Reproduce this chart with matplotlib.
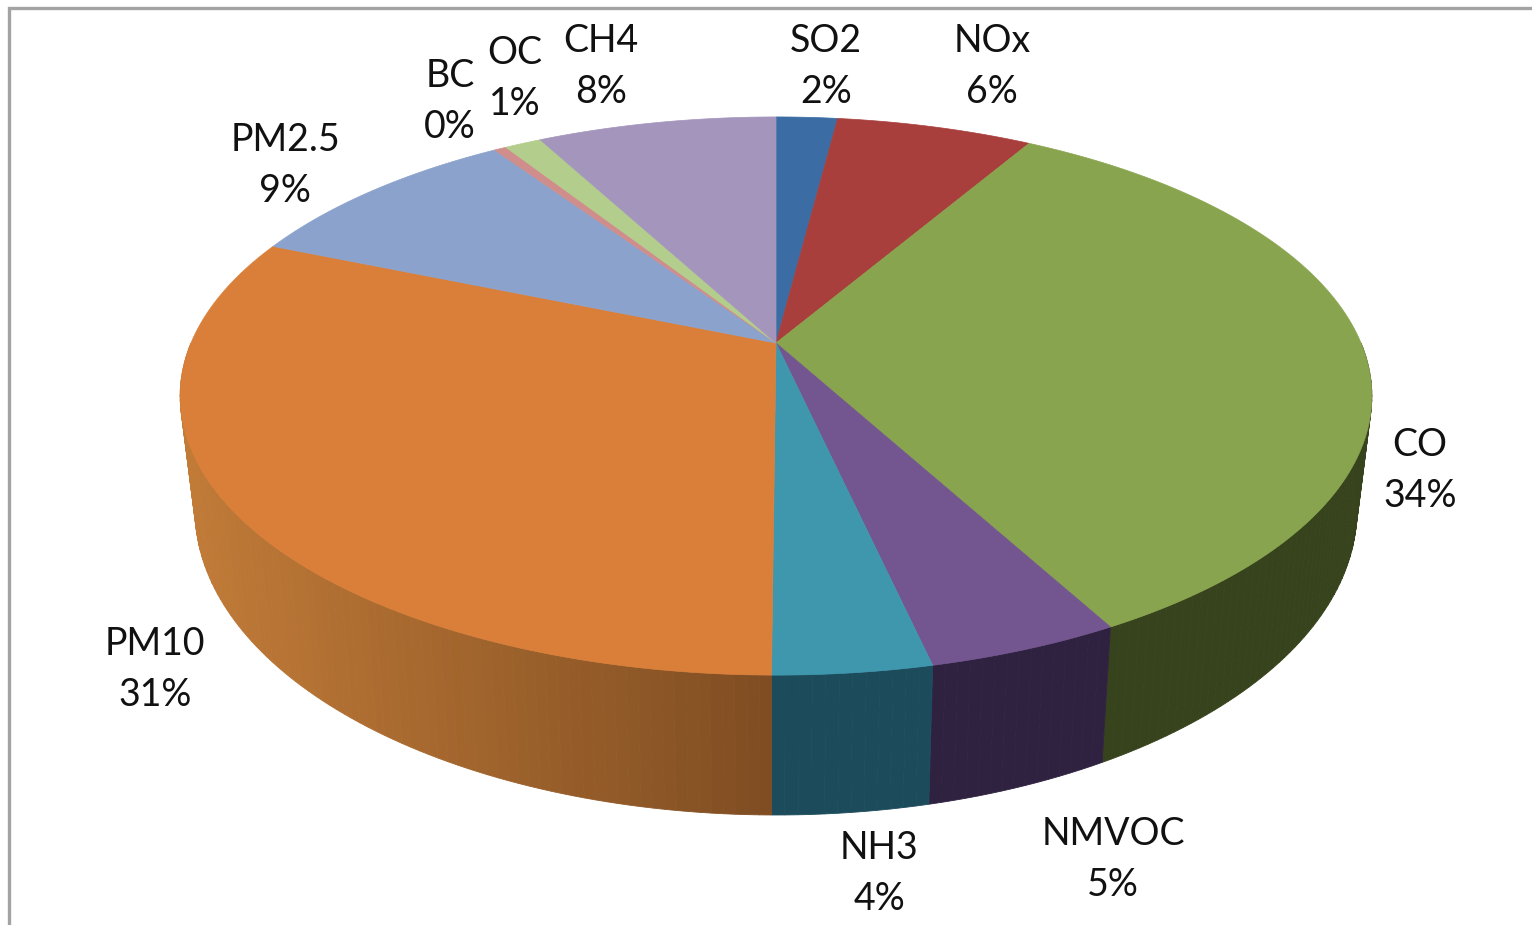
import numpy as np
import matplotlib.pyplot as plt
from matplotlib.colors import to_rgb

plt.rcParams['font.family'] = ['Lato', 'DejaVu Sans']

# slices run clockwise from 12 o'clock
names = ['SO2', 'NOx', 'CO', 'NMVOC', 'NH3', 'PM10', 'PM2.5', 'BC', 'OC', 'CH4']
values = [2.0, 6.4, 33.7, 4.4, 3.6, 31.2, 9.3, 0.4, 1.2, 7.8]
percent_labels = ['2%', '6%', '34%', '5%', '4%', '31%', '9%', '0%', '1%', '8%']
top_colors = ['#3b6ca3', '#a83f3c', '#89a44e', '#73558f', '#3f97ae',
              '#d97f39', '#8ba2cc', '#cf8e8c', '#b3cd8c', '#a495bd']
wall_left = ['#2a4d75', '#7a2d2b', '#37431c', '#2f2240', '#1c4c5c',
             '#c07a37', '#5f7396', '#94605f', '#7f9462', '#756987']
wall_right = ['#2a4d75', '#7a2d2b', '#37431c', '#2f2240', '#1c4c5c',
              '#7f4d22', '#5f7396', '#94605f', '#7f9462', '#756987']

# where the labels sit, in image pixels
label_x = [826, 992, 1420, 1113, 879, 155, 285, 450, 515, 601]
label_y = [41, 41, 445, 834, 848, 644, 140, 76, 53, 41]
line_gap = 51

# perspective of the disc
cx, cy = 776, 343
scale_x, scale_y, tilt = 585, 269, 0.19
# bottom edge of the wall
base_y, base_scale_x, base_scale_y = 452, 0.975, 1.093


def top_edge(a):
    u, v = np.sin(a), np.cos(a)
    w = 1 + tilt * v
    return cx + scale_x * u / w, cy - scale_y * v / w


def base_edge(a):
    u, v = np.sin(a), np.cos(a)
    w = 1 + tilt * v
    return cx + base_scale_x * scale_x * u / w, base_y - base_scale_y * scale_y * v / w


fig = plt.figure(figsize=(15.32, 9.25), dpi=100)
ax = fig.add_axes([0, 0, 1, 1])
ax.set_xlim(0, 1532)
ax.set_ylim(925, 0)
ax.axis('off')

# grey chart frame, right and bottom are cut off in the source
ax.plot([9, 9, 1532], [925, 8, 8], color='#a3a3a3', lw=2.4, solid_joinstyle='miter')

edges = np.cumsum([0] + values) / sum(values) * 2 * np.pi

# wall first, only the front half can be seen
for i in range(len(values)):
    start, end = max(edges[i], np.pi / 2), min(edges[i + 1], 3 * np.pi / 2)
    if end <= start:
        continue
    steps = np.linspace(start, end, max(2, int((end - start) * 60)))
    c1, c2 = np.array(to_rgb(wall_left[i])), np.array(to_rgb(wall_right[i]))
    x_right, x_left = top_edge(start)[0], top_edge(end)[0]
    for j in range(len(steps) - 1):
        a = np.linspace(steps[j], steps[j + 1], 4)
        tx, ty = top_edge(a)
        bx, by = base_edge(a)
        # shade goes with screen x, not with the angle
        f = (x_right - tx.mean()) / (x_right - x_left)
        col = c2 + (c1 - c2) * f
        ax.fill(np.r_[tx, bx[::-1]], np.r_[ty, by[::-1]], color=col, lw=0.6, zorder=2)

# top face
for i in range(len(values)):
    a = np.linspace(edges[i], edges[i + 1], 200)
    x, y = top_edge(a)
    ax.fill(np.r_[cx, x], np.r_[cy, y], color=top_colors[i], lw=0.5, zorder=3)

for i in range(len(names)):
    ax.text(label_x[i], label_y[i], names[i], fontsize=27, ha='center', va='center', color='#111111')
    ax.text(label_x[i], label_y[i] + line_gap, percent_labels[i], fontsize=27,
            ha='center', va='center', color='#111111')

fig.savefig('out.png', dpi=100)
